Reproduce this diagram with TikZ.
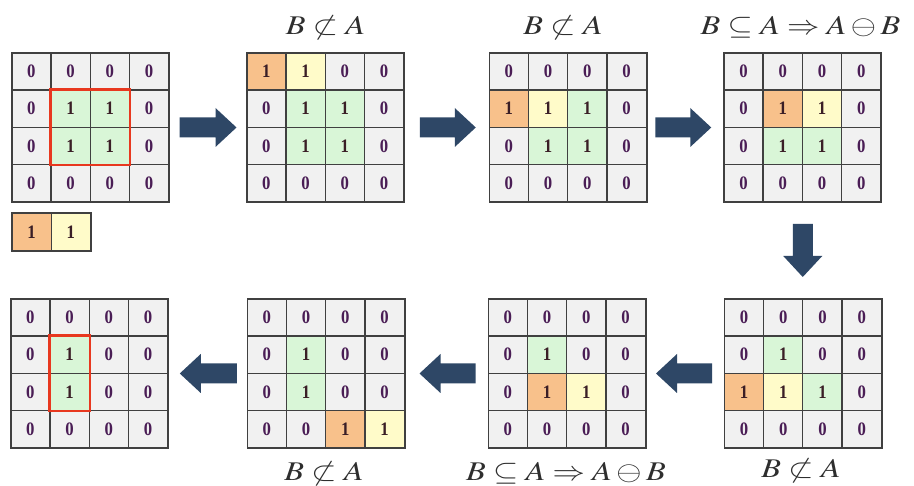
\documentclass[tikz,border=0pt]{standalone}
\usepackage{mathptmx}
\usepackage{fontspec}
\setmainfont{Liberation Serif}
\usetikzlibrary{calc}
\definecolor{cgray}{HTML}{F1F1F1}
\definecolor{cgreen}{HTML}{D9F6D7}
\definecolor{corange}{HTML}{F8C18B}
\definecolor{cyellow}{HTML}{FFFBC9}
\definecolor{czero}{HTML}{4A1D55}
\definecolor{cone}{HTML}{3A1E26}
\definecolor{cline}{HTML}{404040}
\definecolor{cred}{HTML}{E8381F}
\definecolor{carrow}{HTML}{2E4766}
\definecolor{ctext}{HTML}{2E2E2E}
\tikzset{
  cellbase/.style={draw=cline, line width=1.2pt, minimum width=39.25pt, minimum height=37.25pt, inner sep=0pt, font=\fontsize{19}{19}\selectfont\bfseries},
  cellz/.style={cellbase, fill=cgray, text=czero, node contents=\scalebox{0.88}[1]{0}},
  cellg/.style={cellbase, fill=cgreen, text=cone, node contents=\scalebox{0.88}[1]{1}},
  cello/.style={cellbase, fill=corange, text=cone, node contents=\scalebox{0.88}[1]{1}},
  celly/.style={cellbase, fill=cyellow, text=cone, node contents=\scalebox{0.88}[1]{1}},
  gridframe/.style={draw=none, minimum width=157pt, minimum height=149pt, inner sep=0pt},
  frameline/.style={draw=cline, line width=1.6pt},
  redbox/.style={draw=cred, line width=2.4pt},
  blockfill/.style={fill=carrow, draw=none},
  lab/.style={font=\fontsize{27}{27}\selectfont, text=ctext, anchor=base, inner sep=0pt},
}
\newcommand\notsub{\scalebox{1.2}[1]{$B\not\subset A$}}
\newcommand\subimp{\scalebox{1.2}[1]{$B\subseteq A\Rightarrow A\ominus B$}}
\newcommand\mkgrid[3]{%
  \node[gridframe] (#1) at (#2) {};
  \foreach \k [count=\i from 0] in {#3} {
    \pgfmathtruncatemacro\rr{div(\i,4)}
    \pgfmathtruncatemacro\cc{mod(\i,4)}
    \node[cell\k, name=#1-\i, at={($(#1.north west)+({(\cc+0.5)*39.25},{(\rr+0.5)*37.25})$)}];
  }
  \draw[frameline] (#1.north west) rectangle (#1.south east);
}
\newcommand\barrow[2]{%
  \coordinate (#1-#2-b) at ($(#2)!21pt!(#1)$);
  \path[blockfill] ($(#1)!10pt!90:(#2)$) -- ($(#1-#2-b)!10pt!-90:(#1)$)
    -- ($(#1-#2-b)!19.5pt!-90:(#1)$) -- (#2) -- ($(#1-#2-b)!19.5pt!90:(#1)$)
    -- ($(#1-#2-b)!10pt!90:(#1)$) -- ($(#1)!10pt!-90:(#2)$) -- cycle;
}
\begin{document}
\begin{tikzpicture}[x=1pt,y=-1pt]
\useasboundingbox[fill=white] (0,0) rectangle (914,486);
\mkgrid{G1}{90.5,127.5}{z,z,z,z, z,g,g,z, z,g,g,z, z,z,z,z}
\mkgrid{G2}{325.5,127.5}{o,y,z,z, z,g,g,z, z,g,g,z, z,z,z,z}
\mkgrid{G3}{568,127.5}{z,z,z,z, o,y,g,z, z,g,g,z, z,z,z,z}
\mkgrid{G4}{802.5,127.5}{z,z,z,z, z,o,y,z, z,g,g,z, z,z,z,z}
\mkgrid{G5}{803,373.5}{z,z,z,z, z,g,z,z, o,y,g,z, z,z,z,z}
\mkgrid{G6}{567,373.5}{z,z,z,z, z,g,z,z, z,o,y,z, z,z,z,z}
\mkgrid{G7}{326,373.5}{z,z,z,z, z,g,z,z, z,g,z,z, z,z,o,y}
\mkgrid{G8}{89.5,373.5}{z,z,z,z, z,g,z,z, z,g,z,z, z,z,z,z}
% structuring element
\node[cello, name=S-0, at={(31.6,232)}];
\node[celly, name=S-1, at={(70.9,232)}];
\draw[frameline] (S-0.north west) rectangle (S-1.south east);
% red boxes
\draw[redbox] (G1-5.north west) rectangle (G1-10.south east);
\draw[redbox] (G8-5.north west) rectangle (G8-9.south east);
% arrows
\coordinate (t1) at ($(G1.east)!0.5!(G2.west)+(-28.5,0)$);
\coordinate (h1) at ($(G1.east)!0.5!(G2.west)+(28.5,0)$);
\coordinate (t2) at ($(G2.east)!0.5!(G3.west)+(-27,0)$);
\coordinate (h2) at ($(G2.east)!0.5!(G3.west)+(29,0)$);
\coordinate (t3) at ($(G3.east)!0.5!(G4.west)+(-30,0)$);
\coordinate (h3) at ($(G3.east)!0.5!(G4.west)+(26,0)$);
\coordinate (t4) at ($(G4.south)!0.5!(G5.north)+(0,-26.5)$);
\coordinate (h4) at ($(G4.south)!0.5!(G5.north)+(0,26.5)$);
\coordinate (t5) at ($(G5.west)!0.5!(G6.east)+(27,0)$);
\coordinate (h5) at ($(G5.west)!0.5!(G6.east)+(-29,0)$);
\coordinate (t6) at ($(G6.west)!0.5!(G7.east)+(29,0)$);
\coordinate (h6) at ($(G6.west)!0.5!(G7.east)+(-27,0)$);
\coordinate (t7) at ($(G7.west)!0.5!(G8.east)+(29,0)$);
\coordinate (h7) at ($(G7.west)!0.5!(G8.east)+(-28,0)$);
\barrow{t1}{h1}
\barrow{t2}{h2}
\barrow{t3}{h3}
\barrow{t4}{h4}
\barrow{t5}{h5}
\barrow{t6}{h6}
\barrow{t7}{h7}
% labels
\node[lab] (L2) at ($(G2.north)+(0,-18)$) {\notsub};
\node[lab] (L3) at ($(G3.north)+(-5,-18)$) {\notsub};
\node[lab] (L4) at ($(G4.north)+(-2,-18)$) {\subimp};
\node[lab] (L5) at ($(G5.south)+(-2,29)$) {\notsub};
\node[lab] (L6) at ($(G6.south)+(-1,32)$) {\subimp};
\node[lab] (L7) at ($(G7.south)+(-2,32)$) {\notsub};
\end{tikzpicture}
\end{document}
